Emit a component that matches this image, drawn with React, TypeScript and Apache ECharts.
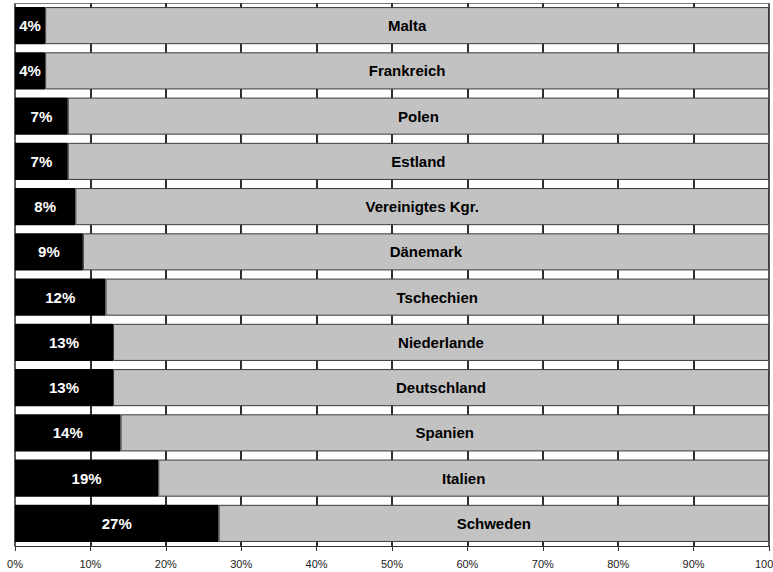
import React, { useEffect, useRef } from "react";
import * as echarts from "echarts";

const countries = [
  "Malta",
  "Frankreich",
  "Polen",
  "Estland",
  "Vereinigtes Kgr.",
  "Dänemark",
  "Tschechien",
  "Niederlande",
  "Deutschland",
  "Spanien",
  "Italien",
  "Schweden",
];
const shares = [4, 4, 7, 7, 8, 9, 12, 13, 13, 14, 19, 27];
const rest = shares.map((v) => 100 - v);
const gridTicks = [10, 20, 30, 40, 50, 60, 70, 80, 90];

export default function App() {
  const ref = useRef<HTMLDivElement>(null);
  useEffect(() => {
    if (!ref.current) return;
    const chart = echarts.init(ref.current, null, { renderer: "svg" });
    chart.setOption({
      animation: false,
      backgroundColor: "#ffffff",
      grid: {
        left: 15,
        right: 4,
        top: 3,
        bottom: 26,
        containLabel: false,
        outerBoundsMode: "none",
        show: false,
      },
      xAxis: [
        {
          type: "value",
          min: 0,
          max: 100,
          interval: 10,
          axisLine: { show: true, lineStyle: { color: "#333", width: 1 } },
          axisTick: { show: true, length: 5, lineStyle: { color: "#333" } },
          splitLine: { show: true, lineStyle: { color: "#222", width: 1.5, type: "solid" } },
          axisLabel: {
            formatter: "{value}%",
            color: "#222",
            fontSize: 11,
            fontFamily: "Liberation Sans Narrow, Arial Narrow, Liberation Sans, Arial, sans-serif",
            margin: 12,
            hideOverlap: false,
          },
        },
        {
          type: "value",
          position: "top",
          min: 0,
          max: 100,
          interval: 10,
          axisLine: { show: true, lineStyle: { color: "#777", width: 1 } },
          axisTick: { show: false },
          splitLine: { show: false },
          axisLabel: { show: false },
        },
      ],
      yAxis: {
        type: "category",
        data: countries,
        inverse: true,
        axisLine: { show: false },
        axisTick: { show: false },
        axisLabel: { show: false },
        splitLine: { show: false },
      },
      series: [
        {
          type: "bar",
          stack: "s",
          z: 3,
          data: shares,
          barCategoryGap: "18%",
          itemStyle: { color: "#000000", borderColor: "#000", borderWidth: 0 },
          label: {
            show: true,
            position: "inside",
            formatter: "{c}%",
            color: "#ffffff",
            fontWeight: "bold",
            fontSize: 15,
            fontFamily: "Liberation Sans, Arial, sans-serif",
          },
          markLine: {
            silent: true,
            z: 1,
            symbol: "none",
            label: { show: false },
            lineStyle: { color: "#222", width: 1.5, type: "solid" },
            data: gridTicks.map((v) => ({ xAxis: v })),
          },
        },
        {
          type: "bar",
          stack: "s",
          z: 3,
          data: rest,
          itemStyle: { color: "#c2c2c2", borderColor: "#3a3a3a", borderWidth: 1 },
          label: {
            show: true,
            position: "inside",
            formatter: (p: any) => countries[p.dataIndex],
            color: "#000000",
            fontWeight: "bold",
            fontSize: 15,
            fontFamily: "Liberation Sans, Arial, sans-serif",
          },
        },
      ],
    });
    return () => chart.dispose();
  }, []);
  return <div ref={ref} style={{ width: 773, height: 572, position: "absolute", left: 0, top: 0 }} />;
}
